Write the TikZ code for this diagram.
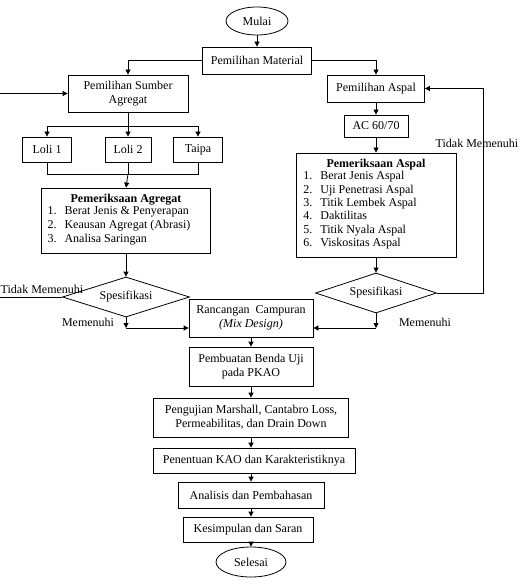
\documentclass[tikz,border=0pt]{standalone}
\usepackage{fontspec}
\setmainfont{Liberation Serif}
\usetikzlibrary{shapes.geometric,arrows.meta}
\begin{document}
\begin{tikzpicture}[x=1pt,y=-1pt,
  txt/.style={font=\fontsize{12}{14}\selectfont},
  box/.style={draw, line width=0.8pt, rectangle, inner sep=0pt, align=center, txt},
  ell/.style={draw, line width=0.8pt, ellipse, inner sep=0pt, txt},
  dia/.style={draw, line width=0.8pt, diamond, aspect=3, inner sep=0pt, txt},
  arr/.style={-{Triangle[length=5pt,width=5pt]}, line width=0.8pt},
  ln/.style={line width=0.8pt},
  lbl/.style={inner sep=0pt, txt}]
\useasboundingbox (0,0) rectangle (523,585);

% nodes
\node[ell, minimum width=62pt, minimum height=28pt] (mulai) at (257,21) {Mulai};
\node[box, minimum width=109pt, minimum height=27pt] (material) at (257,60.5) {Pemilihan Material};
\node[box, minimum width=120pt, minimum height=37pt] (sumber) at (128,93.5) {Pemilihan Sumber\\Agregat};
\node[box, minimum width=97pt, minimum height=27pt] (aspal) at (376,88.5) {Pemilihan Aspal};
\node[box, minimum width=64pt, minimum height=22pt] (ac) at (376,126) {AC 60/70};
\node[box, minimum width=49pt, minimum height=25pt] (loli1) at (47,149.5) {Loli 1};
\node[box, minimum width=46pt, minimum height=25pt] (loli2) at (128,149.5) {Loli 2};
\node[box, minimum width=49pt, minimum height=25pt] (taipa) at (198,149.5) {Taipa};
\node[box, minimum width=169pt, minimum height=65pt, font=\fontsize{12}{14}\selectfont] (agexam) at (126,220.5)
  {\textbf{Pemeriksaan Agregat}\\[-1pt]
   \begin{tabular}{@{}l@{\hspace{8pt}}l@{}}
   1. & Berat Jenis \& Penyerapan\\
   2. & Keausan Agregat (Abrasi)\\
   3. & Analisa Saringan
   \end{tabular}\hspace*{14pt}};
\node[box, minimum width=160pt, minimum height=104pt, font=\fontsize{12}{13.3}\selectfont] (aspexam) at (376,205)
  {\textbf{Pemeriksaan Aspal}\\[-1pt]
   \begin{tabular}{@{}l@{\hspace{8pt}}l@{}}
   1. & Berat Jenis Aspal\\
   2. & Uji Penetrasi Aspal\\
   3. & Titik Lembek Aspal\\
   4. & Daktilitas\\
   5. & Titik Nyala Aspal\\
   6. & Viskositas Aspal
   \end{tabular}\hspace*{32pt}};
\node[dia, minimum width=127pt, minimum height=40pt] (spek1) at (126,297) {Spesifikasi};
\node[dia, minimum width=121pt, minimum height=40pt] (spek2) at (376,293) {Spesifikasi};
\node[box, minimum width=124pt, minimum height=38pt] (ranc) at (251,318) {Rancangan\ \ Campuran\\\textit{(Mix Design)}};
\node[box, minimum width=124pt, minimum height=39pt] (pemb) at (251,366.5) {Pembuatan Benda Uji\\pada PKAO};
\node[box, minimum width=195pt, minimum height=39pt] (peng) at (251,417.5) {Pengujian Marshall, Cantabro Loss,\\Permeabilitas, dan Drain Down};
\node[box, minimum width=202pt, minimum height=25pt] (pen) at (254,460.5) {Penentuan KAO dan Karakteristiknya};
\node[box, minimum width=146pt, minimum height=26pt] (anal) at (251,495) {Analisis dan Pembahasan};
\node[box, minimum width=130pt, minimum height=25pt] (kes) at (248,529.5) {Kesimpulan dan Saran};
\node[ell, minimum width=70pt, minimum height=30pt] (sel) at (251,562) {Selesai};

% labels
\node[lbl] (tmR) at (477,143) {Tidak Memenuhi};
\node[lbl, anchor=west] (tmL) at (0.5,289) {Tidak Memenuhi};
\node[lbl] (mL) at (88,322) {Memenuhi};
\node[lbl] (mR) at (425,322) {Memenuhi};

% coordinates
\coordinate (inL) at (0,93.5);
\coordinate (outL) at (0,297);
\coordinate (br) at (128,126);
\coordinate (mg) at (128,174);
\coordinate (fbR) at (483,293);
\coordinate (j1) at (126,328);
\coordinate (j2) at (376,328);

% connectors
\draw[arr] (mulai.south) -- (material.north);
\draw[arr] (material.west) -| (sumber.north);
\draw[arr] (material.east) -| (aspal.north);
\draw[arr] (inL) -- (sumber.west);
\draw[arr] (aspal) -- (ac);
\draw[arr] (ac) -- (aspexam);
\draw[arr] (aspexam) -- (spek2);
\draw[arr] (spek2.east) -- (fbR) |- (aspal.east);
\draw[ln] (sumber.south) -- (br);
\draw[arr] (br) -| (loli1.north);
\draw[arr] (br) -| (taipa.north);
\draw[arr] (br) -- (loli2.north);
\draw[ln] (loli1.south) |- (mg);
\draw[ln] (taipa.south) |- (mg);
\draw[ln] (loli2.south) -- (mg);
\draw[arr] (mg) -- (agexam.north);
\draw[arr] (agexam) -- (spek1);
\draw[ln] (spek1.west) -- (outL);
\draw[arr] (spek1.south) -- (j1);
\draw[arr] (j1) -- (ranc.west |- j1);
\draw[arr] (spek2.south) -- (j2);
\draw[arr] (j2) -- (ranc.east |- j2);
\draw[arr] (ranc) -- (pemb);
\draw[arr] (pemb) -- (peng);
\draw[arr] (peng) -- (pen.north -| peng);
\draw[arr] (pen.south -| anal) -- (anal);
\draw[arr] (anal) -- (kes.north -| anal);
\draw[arr] (kes.south -| sel) -- (sel);
\end{tikzpicture}
\end{document}
